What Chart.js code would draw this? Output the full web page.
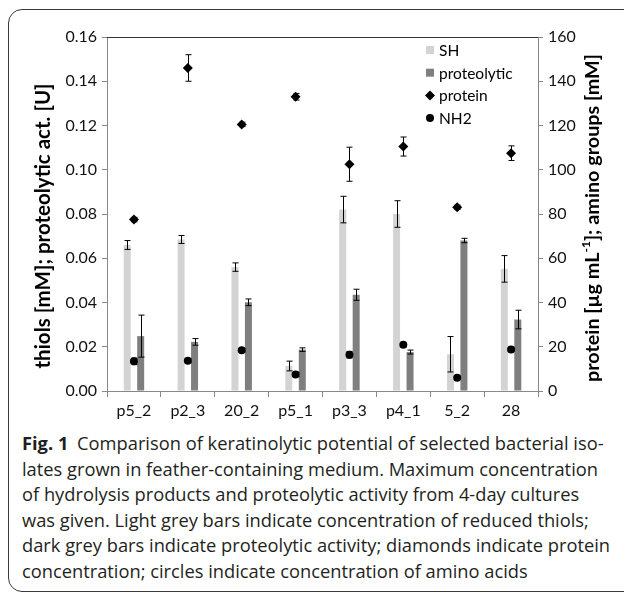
<!DOCTYPE html>
<html>
<head>
<meta charset="utf-8">
<script src="https://cdn.jsdelivr.net/npm/chart.js@4.4.1/dist/chart.umd.min.js"></script>
<style>
  body { margin: 0; background: #fff; }
  #frame {
    position: absolute; left: 8px; top: 9px; width: 700px; height: 583px;
    border: 1.3px solid #3a3a3a; border-radius: 14px; box-sizing: border-box;
  }
  #wrap { position: absolute; left: 0; top: 0; width: 624px; height: 430px; }
  #caption {
    position: absolute; left: 22px; top: 430px; width: 600px;
    font-family: "Open Sans", sans-serif; font-size: 18.3px; line-height: 25.5px;
    color: #231f20; white-space: nowrap;
  }
  #caption b { font-weight: 700; margin-right: 4px; }
</style>
</head>
<body>
<div id="frame"></div>
<div id="wrap"><canvas id="grafico" width="624" height="430"></canvas></div>
<div id="caption">
  <b>Fig. 1</b> Comparison of keratinolytic potential of selected bacterial iso-<br>
  lates grown in feather-containing medium. Maximum concentration<br>
  of hydrolysis products and proteolytic activity from 4-day cultures<br>
  was given. Light grey bars indicate concentration of reduced thiols;<br>
  dark grey bars indicate proteolytic activity; diamonds indicate protein<br>
  concentration; circles indicate concentration of amino acids
</div>
<script>
// Categorias (eixo X)
const categories = ['p5_2', 'p2_3', '20_2', 'p5_1', 'p3_3', 'p4_1', '5_2', '28'];

// Tióis - barras cinza claro (eixo esquerdo)
const shValues = [0.066, 0.0685, 0.056, 0.0113, 0.082, 0.080, 0.0166, 0.0552];
const shErrors = [0.002, 0.0018, 0.0019, 0.0022, 0.006, 0.006, 0.008, 0.006];

// Atividade proteolítica - barras cinza escuro (eixo esquerdo)
const proteolyticValues = [0.0248, 0.0222, 0.0401, 0.0187, 0.0435, 0.0176, 0.068, 0.0323];
const proteolyticErrors = [0.0095, 0.0015, 0.0015, 0.0008, 0.0025, 0.0009, 0.001, 0.0042];

// Proteína - losangos (eixo direito)
const proteinValues = [77.5, 146, 120.5, 133, 102.5, 110.5, 83, 107.5];
const proteinErrors = [1, 6, 1, 1.5, 7.7, 4.3, 1, 3.3];

// NH2 - círculos (eixo direito)
const nh2Values = [13.4, 13.7, 18.4, 7.5, 16.4, 20.9, 6.0, 18.8];
const nh2Errors = [1.5, 0.8, 0.8, 1, 1.5, 1, 0.8, 1];

// Eixos
const leftMax = 0.16, leftStep = 0.02;
const rightMax = 160, rightStep = 20;

const tickFont = { family: 'Lato', size: 16 };

// Barras de erro desenhadas por cima dos datasets
const errorBars = {
  id: 'errorBars',
  afterDatasetsDraw(chart) {
    const ctx = chart.ctx;
    ctx.save();
    ctx.strokeStyle = '#000';
    ctx.lineWidth = 1;
    chart.data.datasets.forEach((ds, i) => {
      const meta = chart.getDatasetMeta(i);
      const scale = chart.scales[ds.yAxisID];
      meta.data.forEach((el, j) => {
        const v = ds.data[j], e = ds.errors[j];
        const x = Math.round(el.x) + 0.5;
        const yT = scale.getPixelForValue(v + e);
        const yB = scale.getPixelForValue(v - e);
        ctx.beginPath();
        ctx.moveTo(x, yT); ctx.lineTo(x, yB);
        ctx.moveTo(x - 3, yT); ctx.lineTo(x + 3, yT);
        ctx.moveTo(x - 3, yB); ctx.lineTo(x + 3, yB);
        ctx.stroke();
      });
    });
    ctx.restore();
  }
};

// Legenda, títulos dos eixos e borda superior
const extras = {
  id: 'extras',
  afterDraw(chart) {
    const ctx = chart.ctx;
    const a = chart.chartArea;
    ctx.save();

    // linha superior da área do gráfico
    ctx.strokeStyle = '#333';
    ctx.lineWidth = 1;
    ctx.beginPath();
    ctx.moveTo(a.left, a.top + 0.5); ctx.lineTo(a.right, a.top + 0.5);
    ctx.stroke();

    // legenda
    const lx = a.right - 112, ly = a.top + 13, step = 22.7;
    ctx.font = '15.5px Lato';
    ctx.textBaseline = 'middle';
    chart.data.datasets.forEach((ds, i) => {
      const y = ly + i * step;
      ctx.fillStyle = ds.backgroundColor;
      if (ds.type === 'bar') {
        ctx.fillRect(lx, y - 4, 8, 8);
      } else if (ds.pointStyle === 'rectRot') {
        ctx.beginPath();
        ctx.moveTo(lx + 4, y - 5); ctx.lineTo(lx + 9, y);
        ctx.lineTo(lx + 4, y + 5); ctx.lineTo(lx - 1, y);
        ctx.closePath(); ctx.fill();
      } else {
        ctx.beginPath();
        ctx.arc(lx + 4, y, 4, 0, Math.PI * 2);
        ctx.fill();
      }
      ctx.fillStyle = '#000';
      ctx.fillText(ds.label, lx + 13, y + 1);
    });

    // título esquerdo
    ctx.fillStyle = '#000';
    ctx.font = 'bold 20.5px Lato';
    ctx.textAlign = 'center';
    ctx.translate(43, 226);
    ctx.rotate(-Math.PI / 2);
    ctx.fillText('thiols [mM]; proteolytic act. [U]', 0, 0);
    ctx.setTransform(1, 0, 0, 1, 0, 0);

    // título direito com sobrescrito
    const parts = [
      ['protein [µg mL', 'bold 19.8px Lato', 0],
      ['-1', 'bold 12px Lato', -7],
      ['];  amino groups [mM]'.replace('  ', ' '), 'bold 19.8px Lato', 0]
    ];
    let total = 0;
    parts.forEach(p => { ctx.font = p[1]; total += ctx.measureText(p[0]).width; });
    ctx.translate(593, 218);
    ctx.rotate(-Math.PI / 2);
    ctx.textAlign = 'left';
    let x = -total / 2;
    parts.forEach(p => {
      ctx.font = p[1];
      ctx.fillText(p[0], x, p[2]);
      x += ctx.measureText(p[0]).width;
    });
    ctx.restore();
  }
};

const data = {
  labels: categories,
  datasets: [
    {
      type: 'bar', label: 'SH', data: shValues, errors: shErrors,
      backgroundColor: '#d3d3d3', yAxisID: 'y', order: 2,
      categoryPercentage: 0.5, barPercentage: 0.52
    },
    {
      type: 'bar', label: 'proteolytic', data: proteolyticValues, errors: proteolyticErrors,
      backgroundColor: '#7f7f7f', yAxisID: 'y', order: 2,
      categoryPercentage: 0.5, barPercentage: 0.52
    },
    {
      type: 'line', label: 'protein', data: proteinValues, errors: proteinErrors,
      showLine: false, pointStyle: 'rectRot', pointRadius: 5, pointHoverRadius: 5,
      backgroundColor: '#000', borderColor: '#000', borderWidth: 0, yAxisID: 'y2', order: 1
    },
    {
      type: 'line', label: 'NH2', data: nh2Values, errors: nh2Errors,
      showLine: false, pointStyle: 'circle', pointRadius: 4, pointHoverRadius: 4,
      backgroundColor: '#000', borderColor: '#000', borderWidth: 0, yAxisID: 'y2', order: 1
    }
  ]
};

const config = {
  data: data,
  options: {
    responsive: false,
    animation: false,
    layout: { padding: { top: 37, left: 0, right: 0, bottom: 0 } },
    plugins: { legend: { display: false }, tooltip: { enabled: false } },
    scales: {
      x: {
        afterFit: s => { s.height = 39; },
        grid: { display: true, offset: true, drawOnChartArea: false, tickLength: 6, color: '#888' },
        border: { color: '#888' },
        ticks: { font: tickFont, color: '#111', padding: 4 }
      },
      y: {
        position: 'left', min: 0, max: leftMax,
        afterFit: s => { s.width = 107; },
        grid: { drawOnChartArea: false, tickLength: 5, color: '#888' },
        border: { color: '#888' },
        ticks: { stepSize: leftStep, font: tickFont, color: '#111', padding: 5,
                 callback: v => v.toFixed(2) }
      },
      y2: {
        position: 'right', min: 0, max: rightMax,
        afterFit: s => { s.width = 86; },
        grid: { drawOnChartArea: false, tickLength: 5, color: '#888' },
        border: { color: '#888' },
        ticks: { stepSize: rightStep, font: tickFont, color: '#111', padding: 5 }
      }
    }
  },
  plugins: [errorBars, extras]
};

const grafico = new Chart(document.getElementById('grafico'), config);
</script>
</body>
</html>
